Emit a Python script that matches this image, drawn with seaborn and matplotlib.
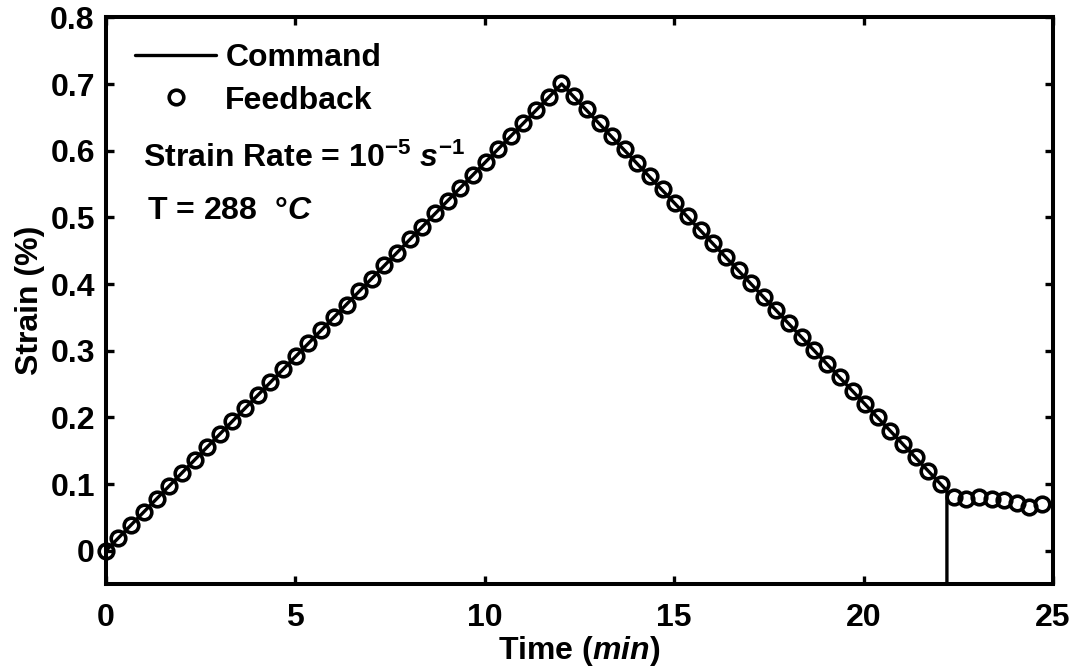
import matplotlib
matplotlib.use("Agg")
import matplotlib.pyplot as plt
import seaborn as sns
import pandas as pd

# Commanded strain history (min, %)
command_time = [0.0, 12.03, 22.2, 22.2]
command_strain = [0.0, 0.70, 0.09, -0.05]

# Measured feedback, one sample every ~20 s (min, %)
feedback_time = [
    0.00, 0.33, 0.67, 1.00, 1.34, 1.67, 2.00, 2.34, 2.67, 3.01,
    3.34, 3.67, 4.01, 4.34, 4.68, 5.01, 5.34, 5.68, 6.01, 6.35,
    6.68, 7.01, 7.35, 7.68, 8.02, 8.35, 8.68, 9.02, 9.35, 9.69,
    10.02, 10.35, 10.69, 11.02, 11.36, 11.69, 12.02, 12.36, 12.69, 13.03,
    13.36, 13.69, 14.03, 14.36, 14.70, 15.03, 15.36, 15.70, 16.03, 16.37,
    16.70, 17.03, 17.37, 17.70, 18.04, 18.37, 18.70, 19.04, 19.37, 19.71,
    20.04, 20.37, 20.71, 21.04, 21.38, 21.71, 22.04, 22.38, 22.71, 23.05,
    23.38, 23.71, 24.05, 24.38, 24.72,
]
feedback_strain = [
    0.000, 0.019, 0.039, 0.058, 0.078, 0.097, 0.117, 0.136, 0.156, 0.175,
    0.194, 0.214, 0.233, 0.253, 0.272, 0.292, 0.311, 0.331, 0.350, 0.369,
    0.389, 0.408, 0.428, 0.447, 0.467, 0.486, 0.506, 0.525, 0.544, 0.564,
    0.583, 0.603, 0.622, 0.642, 0.661, 0.681, 0.701, 0.682, 0.662, 0.642,
    0.622, 0.602, 0.582, 0.562, 0.542, 0.522, 0.502, 0.481, 0.461, 0.441,
    0.421, 0.401, 0.381, 0.361, 0.341, 0.321, 0.301, 0.280, 0.260, 0.240,
    0.220, 0.200, 0.180, 0.160, 0.140, 0.119, 0.100, 0.081, 0.078, 0.081,
    0.078, 0.076, 0.072, 0.065, 0.070,
]

x_ticks = [0, 5, 10, 15, 20, 25]
y_ticks = [0, 0.1, 0.2, 0.3, 0.4, 0.5, 0.6, 0.7, 0.8]
y_tick_labels = ["0", "0.1", "0.2", "0.3", "0.4", "0.5", "0.6", "0.7", "0.8"]

FS = 23

sns.set_theme(style="ticks")
plt.rcParams.update({
    "font.family": ["Liberation Sans", "DejaVu Sans"],
    "font.weight": "bold",
    "font.size": FS,
    "mathtext.fontset": "custom",
    "mathtext.rm": "Liberation Sans:bold",
    "mathtext.it": "Liberation Sans:bold:italic",
    "mathtext.bf": "Liberation Sans:bold",
    "text.color": "black",
    "axes.labelcolor": "black",
    "axes.edgecolor": "black",
    "xtick.color": "black",
    "ytick.color": "black",
    "axes.linewidth": 2.9,
    "xtick.direction": "in",
    "ytick.direction": "in",
    "xtick.major.size": 5.5,
    "ytick.major.size": 5.5,
    "xtick.major.width": 2.4,
    "ytick.major.width": 2.4,
    "xtick.top": True,
    "ytick.right": True,
})

cmd = pd.DataFrame({"time": command_time, "strain": command_strain})
fb = pd.DataFrame({"time": feedback_time, "strain": feedback_strain})

fig = plt.figure(figsize=(10.77, 6.67), dpi=100)
ax = fig.add_axes([0.0984, 0.1244, 0.8793, 0.8496])

sns.lineplot(data=cmd, x="time", y="strain", sort=False, estimator=None,
             color="black", linewidth=2.4, label="Command", ax=ax)
sns.lineplot(data=fb, x="time", y="strain", sort=False, estimator=None,
             color="black", linestyle="none", marker="o", markersize=10.5,
             markerfacecolor="none", markeredgecolor="black",
             markeredgewidth=2.6, label="Feedback", ax=ax, clip_on=False)

ax.set_xlim(0, 25)
ax.set_ylim(-0.05, 0.8)
ax.set_xticks(x_ticks)
ax.set_yticks(y_ticks)
ax.set_yticklabels(y_tick_labels)
ax.tick_params(axis="x", labelsize=FS, pad=13.5)
ax.tick_params(axis="y", labelsize=FS, pad=8)
for lab in ax.get_xticklabels() + ax.get_yticklabels():
    lab.set_fontweight("bold")

ax.set_xlabel(r"Time ($min$)", fontsize=FS, fontweight="bold", labelpad=1)
ax.set_ylabel("Strain (%)", fontsize=FS, fontweight="bold", labelpad=4)

leg = ax.legend(loc="upper left", frameon=False, fontsize=FS,
                handlelength=2.55, handletextpad=0.28, labelspacing=0.38,
                borderaxespad=0.0, borderpad=0.0,
                bbox_to_anchor=(0.0306, 0.954))
for t in leg.get_texts():
    t.set_fontweight("bold")

ax.text(0.0388, 0.752, r"Strain Rate = 10$^{\mathrm{-5}}$ $s^{-1}$",
        transform=ax.transAxes, fontsize=FS, fontweight="bold", va="center")
ax.text(0.043, 0.658, r"T = 288 $\mathrm{\ \degree}C$",
        transform=ax.transAxes, fontsize=FS, fontweight="bold", va="center")

fig.savefig("out.png", dpi=100)
